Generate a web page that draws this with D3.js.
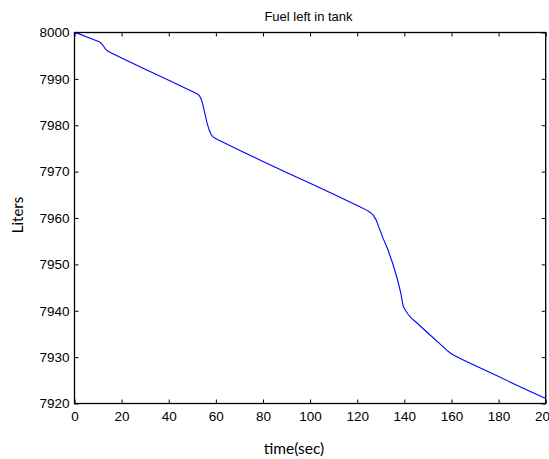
<!DOCTYPE html>
<html><head><meta charset="utf-8">
<script src="https://cdn.jsdelivr.net/npm/d3@7"></script>
<style>body{margin:0;background:#fff}svg{display:block}</style>
</head><body>
<script>
const timeSec = [0,2,5,8,10.5,11.5,12.3,13,13.8,14.8,20,30,40,50,52,53,53.8,54.5,55.3,56.2,57.2,58,58.8,60,62,70,80,90,100,110,120,124,125.5,126.8,128,129.5,131,133,135,137,138.5,139.5,140.3,141.5,143,145.5,147,150,154.4,158,159.5,161,165,170,180,190,200];
const liters = [8000,7999.7,7999.1,7998.5,7998.0,7997.6,7997.1,7996.5,7996.1,7995.8,7994.5,7992.1,7989.7,7987.3,7986.8,7986.4,7985.6,7984.4,7982.6,7980.6,7978.9,7978.0,7977.5,7977.1,7976.6,7974.6,7972.2,7969.8,7967.5,7965.1,7962.7,7961.7,7961.2,7960.6,7959.6,7957.6,7955.6,7953.2,7950.3,7946.9,7943.8,7941.0,7940.2,7939.3,7938.4,7937.3,7936.6,7935.2,7933.2,7931.5,7930.9,7930.4,7929.4,7928.2,7925.8,7923.4,7921.1];
const xTicks = [0,20,40,60,80,100,120,140,160,180,200];
const yTicks = [7920,7930,7940,7950,7960,7970,7980,7990,8000];
const titleText = "Fuel left in tank";
const xLabel = "time(sec)";
const yLabel = "Liters";

const W = 549, H = 459;
const L = 74.5, R = 545.7, T = 32.5, B = 403.5;
const svg = d3.select("body").append("svg").attr("width", W).attr("height", H);
const x = d3.scaleLinear().domain([0,200]).range([L,R]);
const y = d3.scaleLinear().domain([7920,8000]).range([B,T]);

const font = "Liberation Sans, Arial, sans-serif";
const tk = 4;
const gx = svg.append("g").attr("transform",`translate(0,${B})`)
  .call(d3.axisBottom(x).tickValues(xTicks).tickSize(-tk).tickPadding(8).tickFormat(d3.format("d")));
const gxt = svg.append("g").attr("transform",`translate(0,${T})`)
  .call(d3.axisTop(x).tickValues(xTicks).tickSize(-tk).tickFormat(""));
const gy = svg.append("g").attr("transform",`translate(${L},0)`)
  .call(d3.axisLeft(y).tickValues(yTicks).tickSize(-tk).tickPadding(5).tickFormat(d3.format("d")));
const gyr = svg.append("g").attr("transform",`translate(${R},0)`)
  .call(d3.axisRight(y).tickValues(yTicks).tickSize(-tk).tickFormat(""));
[gx,gxt,gy,gyr].forEach(g=>{
  g.select(".domain").remove();
  g.selectAll(".tick line").attr("stroke","#000").attr("stroke-width",1);
  g.selectAll("text").attr("font-family",font).attr("font-size",13.5).attr("fill","#000");
});

svg.append("rect").attr("x",L).attr("y",T).attr("width",R-L).attr("height",B-T)
  .attr("fill","none").attr("stroke","#000").attr("stroke-width",1.3);

const pts = timeSec.map((t,i)=>[t,liters[i]]);
svg.append("path").datum(pts)
  .attr("d", d3.line().x(d=>x(d[0])).y(d=>y(d[1])))
  .attr("fill","none").attr("stroke","#0000ff").attr("stroke-width",1.1);

svg.append("text").attr("x",308.5).attr("y",21).attr("text-anchor","middle")
  .attr("font-family",font).attr("font-size",13).text(titleText);
svg.append("text").attr("x",294).attr("y",454).attr("text-anchor","middle")
  .attr("font-family","Lato, 'Open Sans', sans-serif").attr("font-size",15.5).text(xLabel);
svg.append("text").attr("transform","translate(23,215) rotate(-90)").attr("text-anchor","middle")
  .attr("font-family","Lato, 'Open Sans', sans-serif").attr("font-size",15).text(yLabel);
</script>
</body></html>
